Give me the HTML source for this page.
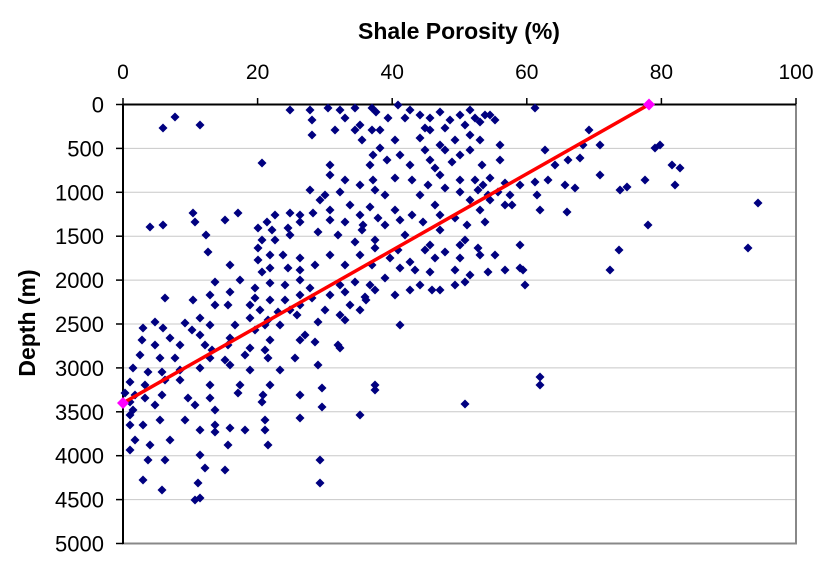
<!DOCTYPE html>
<html><head><meta charset="utf-8"><style>
html,body{margin:0;padding:0;background:#fff;}
svg{display:block;font-family:"Liberation Sans",Arial,sans-serif;}
</style></head><body>
<svg id="s" width="826" height="563" viewBox="0 0 826 563">
<g id="grid" stroke="#c8c8c8" stroke-width="1"></g>
<rect x="123" y="104.5" width="673" height="439" fill="none" stroke="#888" stroke-width="2"/>
<line x1="123" y1="104.5" x2="796" y2="104.5" stroke="#000" stroke-width="2"/>
<line x1="123" y1="104" x2="123" y2="544" stroke="#000" stroke-width="2"/>
<g id="ticks" stroke="#000" stroke-width="1.5"></g>
<g id="lab" fill="#000"></g>
<text x="459" y="39" font-size="23" font-weight="bold" text-anchor="middle">Shale Porosity (%)</text>
<text transform="translate(35,323) rotate(-90)" font-size="23" font-weight="bold" text-anchor="middle">Depth (m)</text>
<g id="pts" fill="#000080"></g>
<line x1="123" y1="403" x2="649" y2="104.5" stroke="#ff0000" stroke-width="3.5"/>
<polygon points="123,397 129,403 123,409 117,403" fill="#ff00ff"/>
<polygon points="649,98.5 655,104.5 649,110.5 643,104.5" fill="#ff00ff"/>
</svg>
<script>
var NS="http://www.w3.org/2000/svg";
function el(p,t,a,txt){var e=document.createElementNS(NS,t);for(var k in a)e.setAttribute(k,a[k]);if(txt!==undefined)e.textContent=txt;document.getElementById(p).appendChild(e);}
for(var i=0;i<=10;i++){var y=104.5+i*43.9;
 if(i>0&&i<10)el("grid","line",{x1:123,x2:796,y1:y,y2:y});
 el("ticks","line",{x1:116,x2:123,y1:y,y2:y});
 el("lab","text",{x:104,y:y+8,"text-anchor":"end","font-size":22},String(i*500));}
for(var j=0;j<=5;j++){var x=123+j*134.6;
 el("ticks","line",{x1:x,x2:x,y1:98,y2:104});
 el("lab","text",{x:x,y:79,"text-anchor":"middle","font-size":21},String(j*20));}
var P=[290,110,310,110,328,108,340,110,355,108,372,108,376,112,398,105,410,110,420,115,430,118,440,112,450,120,460,115,470,110,475,118,480,122,490,115,495,120,535,108,175,117,163,128,200,125,312,120,345,118,360,125,372,130,388,118,405,118,425,128,445,128,465,125,485,115,
312,135,335,130,355,130,362,140,380,130,395,140,420,138,430,130,440,145,455,140,470,135,480,140,589,130,583,145,545,150,600,145,655,148,660,145,373,155,380,148,400,155,425,150,430,160,445,150,460,155,470,150,500,145,370,165,387,160,410,165,435,168,452,162,482,165,500,160,262,163,330,165,555,165,568,160,580,158,600,175,672,165,680,168,
330,175,345,180,360,185,373,180,395,178,412,180,428,185,440,175,460,180,475,180,483,185,490,178,505,183,520,185,535,182,548,180,565,185,575,188,620,190,627,187,645,180,675,185,310,190,325,195,340,192,375,190,385,195,420,195,445,188,460,192,478,190,488,195,498,192,510,195,537,195,320,200,350,205,370,207,395,210,435,205,470,200,490,200,512,205,540,210,567,212,758,203,330,210,360,215,378,218,412,215,440,215,455,218,480,210,505,205,
193,213,238,213,275,215,290,213,300,215,313,213,330,220,345,222,363,225,385,225,400,220,423,222,440,230,467,225,485,222,648,225,195,222,225,220,267,222,300,222,150,227,163,225,258,228,272,230,288,228,318,232,338,235,362,230,375,240,405,235,430,245,465,240,262,240,258,248,275,240,290,235,206,235,208,252,355,242,375,248,398,250,425,250,445,252,460,245,478,248,495,255,520,245,748,248,619,250,258,260,270,255,283,255,300,258,330,255,360,255,390,258,410,262,435,258,460,258,480,255,520,268,270,268,262,272,288,268,300,270,315,265,345,265,372,265,400,268,415,270,430,272,455,270,470,275,488,272,505,270,523,270,525,285,610,270,
230,265,215,282,240,280,255,288,270,283,285,285,300,280,310,288,340,285,355,282,370,285,385,278,420,285,440,290,455,285,465,282,210,295,230,292,255,298,270,300,285,300,300,295,312,298,330,295,345,292,365,297,375,290,395,295,410,290,250,305,260,310,278,312,290,310,300,305,325,310,340,315,350,305,366,300,432,290,165,298,193,300,200,318,215,305,228,305,250,318,268,320,280,325,297,315,318,322,345,320,360,310,210,325,235,325,255,330,265,325,200,335,230,338,270,340,305,335,400,325,
143,328,155,322,163,328,185,323,192,330,142,340,155,345,170,338,180,345,205,345,212,350,228,345,250,348,265,350,300,340,315,342,338,345,340,348,140,355,160,358,175,358,210,358,225,360,245,355,268,358,295,358,133,368,148,372,162,372,180,370,200,368,230,365,250,370,280,370,318,365,540,377,130,382,145,385,165,380,180,380,210,385,240,385,270,385,322,388,375,385,540,385,125,393,135,395,145,398,162,395,188,398,210,398,238,393,263,395,300,395,130,402,133,410,155,405,195,405,215,410,262,402,465,404,322,407,375,390,
130,415,130,425,143,425,160,420,185,420,215,425,230,428,265,420,265,430,300,418,360,415,150,445,170,440,200,430,215,432,245,430,268,445,130,450,135,440,148,460,165,460,200,455,228,445,320,460,143,480,205,468,225,470,198,483,162,490,320,483,195,500,200,498];
for(var k=0;k<P.length;k+=2){var x=P[k],y=P[k+1];
 el("pts","polygon",{points:x+","+(y-4.5)+" "+(x+4.5)+","+y+" "+x+","+(y+4.5)+" "+(x-4.5)+","+y});}
</script>
</body></html>
